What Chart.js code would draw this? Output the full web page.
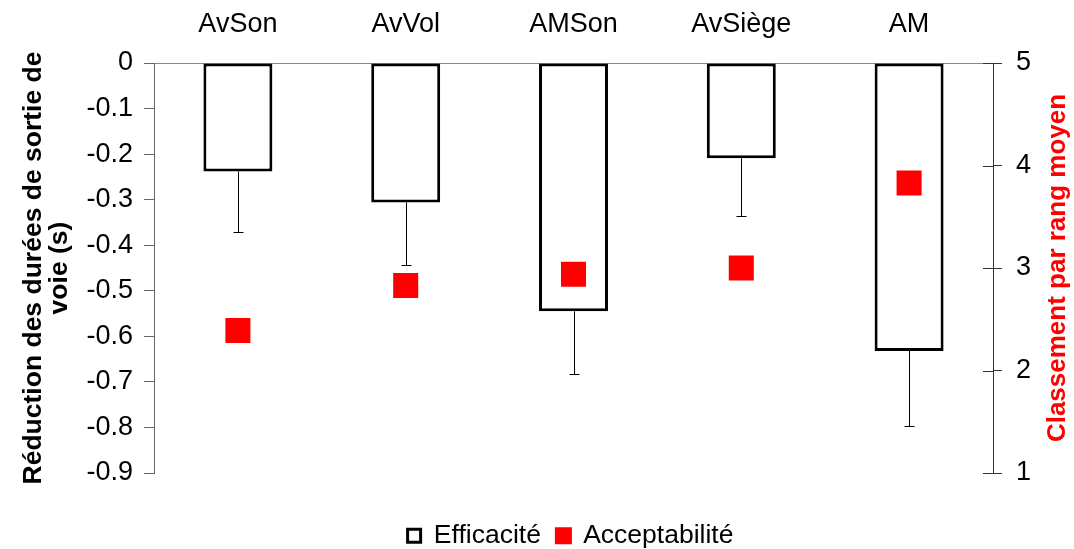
<!DOCTYPE html>
<html><head><meta charset="utf-8">
<script src="https://cdn.jsdelivr.net/npm/chart.js@4/dist/chart.umd.min.js"></script>
<style>html,body{margin:0;padding:0;background:#fff;}canvas{display:block;}</style>
</head><body>
<canvas id="c" width="1074" height="549"></canvas>
<script>
const categories = ['AvSon', 'AvVol', 'AMSon', 'AvSiège', 'AM'];
const efficacite = [-0.238, -0.306, -0.545, -0.209, -0.632];
const efficaciteErr = [0.134, 0.138, 0.138, 0.127, 0.164];
const acceptabilite = [2.39, 2.83, 2.94, 3.00, 3.83];
const leftRange = [-0.9, 0, 0.1];
const rightRange = [1, 5, 1];
const leftTitle = ['Réduction des durées de sortie de', 'voie (s)'];
const rightTitle = 'Classement par rang moyen';

const FONT = "'Liberation Sans', Arial, sans-serif";

const whiteBg = {
  id: 'whiteBg',
  beforeDraw(chart) {
    const c = chart.ctx; c.save(); c.fillStyle = '#fff';
    c.fillRect(0, 0, chart.width, chart.height); c.restore();
  }
};

const errorBars = {
  id: 'errorBars',
  afterDatasetsDraw(chart) {
    const meta = chart.getDatasetMeta(0);
    const ys = chart.scales.y;
    const c = chart.ctx;
    c.save();
    c.strokeStyle = '#000'; c.lineWidth = 1;
    meta.data.forEach((bar, i) => {
      const x = Math.round(bar.x) + 0.5;
      const y0 = bar.y;
      const y1 = Math.round(ys.getPixelForValue(efficacite[i] - efficaciteErr[i])) + 0.5;
      c.beginPath(); c.moveTo(x, y0); c.lineTo(x, y1);
      c.moveTo(x - 5, y1); c.lineTo(x + 5, y1); c.stroke();
    });
    c.restore();
  }
};

const rightAxisExtras = {
  id: 'rightAxisExtras',
  afterLayout(chart) {
    const lg = chart.legend;
    if (lg) { const shift = 570.5 - (lg.left + lg.right) / 2; lg.left += shift; lg.right += shift; }
  },
  afterDraw(chart) {
    const s = chart.scales.y2; const c = chart.ctx; const a = chart.chartArea;
    c.save(); c.strokeStyle = '#333'; c.lineWidth = 1;
    s.ticks.forEach(t => {
      const y = Math.round(s.getPixelForValue(t.value)) + 0.5;
      c.beginPath(); c.moveTo(s.left - 10, y); c.lineTo(s.left, y); c.stroke();
    });
    c.translate(1058, (a.top + a.bottom) / 2);
    c.rotate(-Math.PI / 2);
    c.fillStyle = '#ff0000';
    c.font = "bold 26px " + FONT;
    c.textAlign = 'center'; c.textBaseline = 'middle';
    c.fillText(rightTitle, 0, 0);
    c.restore();
  }
};

new Chart(document.getElementById('c'), {
  data: {
    labels: categories,
    datasets: [
      {
        type: 'bar', label: 'Efficacité', data: efficacite, yAxisID: 'y',
        backgroundColor: '#ffffff', borderColor: '#000000', borderWidth: 3,
        borderSkipped: false, categoryPercentage: 1, barPercentage: 0.411, order: 2
      },
      {
        type: 'line', label: 'Acceptabilité', data: acceptabilite, yAxisID: 'y2',
        showLine: false, pointStyle: 'rect', pointRadius: 17.7, pointHoverRadius: 17.7,
        backgroundColor: '#ff0000', borderColor: '#ff0000', borderWidth: 4,
        pointBackgroundColor: '#ff0000', pointBorderWidth: 0, order: 1
      }
    ]
  },
  options: {
    responsive: false, animation: false, devicePixelRatio: 1,
    layout: { padding: { left: 21, right: 0, top: 0, bottom: -10 } },
    plugins: {
      tooltip: { enabled: false },
      legend: {
        position: 'bottom',
        title: { display: true, text: ' ', font: { size: 1, lineHeight: 1 }, padding: { top: 0, bottom: 32.5 } },
        labels: {
          font: { family: FONT, size: 26.5 }, color: '#000',
          boxWidth: 13, boxHeight: 13, padding: 16,
          sort: (a, b) => a.datasetIndex - b.datasetIndex
        }
      }
    },
    scales: {
      x: {
        position: 'top', offset: true,
        grid: { display: false, drawTicks: false },
        border: { display: true, color: '#888', width: 1 },
        ticks: { font: { family: FONT, size: 27 }, color: '#000', padding: 22 },
        afterFit: s => { s.height = 63; }
      },
      y: {
        position: 'left', min: leftRange[0], max: leftRange[1],
        grid: { display: true, drawOnChartArea: false, drawTicks: true, tickLength: 10, color: '#666' },
        border: { display: true, color: '#666', width: 1 },
        ticks: {
          stepSize: leftRange[2], font: { family: FONT, size: 27 }, color: '#000', padding: 11,
          callback: v => { const r = Math.round(v * 10) / 10; return r === 0 ? '0' : r.toFixed(1); }
        },
        title: {
          display: true, text: leftTitle, color: '#000',
          font: { family: FONT, size: 26.5, weight: 'bold', lineHeight: 26 / 26.5 },
          padding: { top: 0, bottom: 10 }
        },
        afterFit: s => { s.width = 133; }
      },
      y2: {
        position: 'right', min: rightRange[0], max: rightRange[1],
        grid: { display: true, drawOnChartArea: false, drawTicks: true, tickLength: 9, color: '#333' },
        border: { display: true, color: '#333', width: 1 },
        ticks: { stepSize: rightRange[2], font: { family: FONT, size: 27 }, color: '#000', padding: 14 },
        afterFit: s => { s.width = 81; }
      }
    }
  },
  plugins: [whiteBg, errorBars, rightAxisExtras]
});
</script>
</body></html>
